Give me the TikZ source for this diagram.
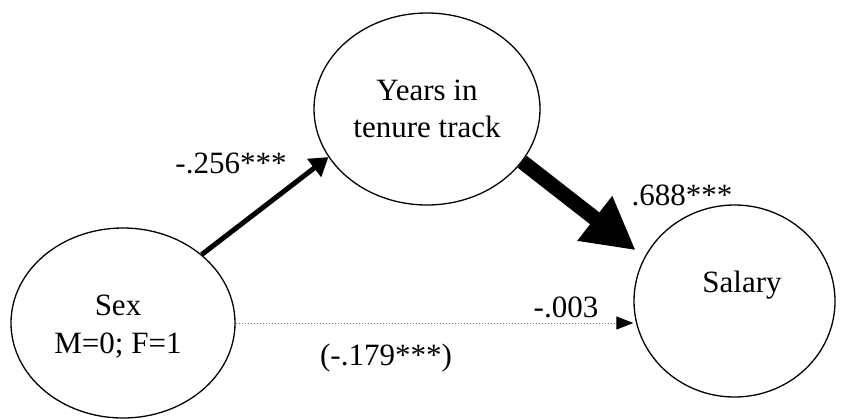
\documentclass[tikz,border=0pt]{standalone}
\usepackage{fontspec}
\setmainfont{Liberation Serif}
\usetikzlibrary{shapes.geometric,arrows.meta}
\begin{document}
\begin{tikzpicture}[x=1pt,y=-1pt,
  ell/.style={ellipse,draw,line width=1.3pt,inner sep=0pt},
  txt/.style={anchor=base,inner sep=0pt,font=\fontsize{31}{37}\selectfont},
  thinarrow/.style={line width=5pt,-{Triangle[length=18pt,width=22pt]}},
  bigarrow/.style={line width=15pt,-{Triangle[length=52pt,width=53pt]}},
  dotarrow/.style={draw=black!55,line width=1pt,dash pattern=on 1.5pt off 1.5pt,-{Triangle[length=17pt,width=13pt,color=black]}}]
\useasboundingbox (0,0) rectangle (848,418);
\node[ell,minimum width=224pt,minimum height=190pt] (sex) at (123,323) {};
\node[ell,minimum width=226pt,minimum height=192pt] (yrs) at (427,109) {};
\node[ell,minimum width=201pt,minimum height=192pt] (sal) at (734.5,301) {};
\node[txt] (t1) at (427,100) {Years in};
\node[txt] (t2) at (427,137) {tenure track};
\node[txt] (t3) at (742,292) {Salary};
\node[txt] (t4) at (118,315) {Sex};
\node[txt] (t5) at (118,353) {M=0; F=1};
\node[txt] (l1) at (231,173) {-.256***};
\node[txt] (l2) at (682,205) {.688***};
\node[txt] (l3) at (566,317) {-.003};
\node[txt] (l4) at (386,365) {(-.179***)};
\draw[thinarrow] (sex.41) -- (yrs.206);
\draw[bigarrow,shorten >=11pt] (yrs.-29) -- (sal.154);
\draw[dotarrow] (sex.east) -- (sex.east -| sal.west);
\end{tikzpicture}
\end{document}
